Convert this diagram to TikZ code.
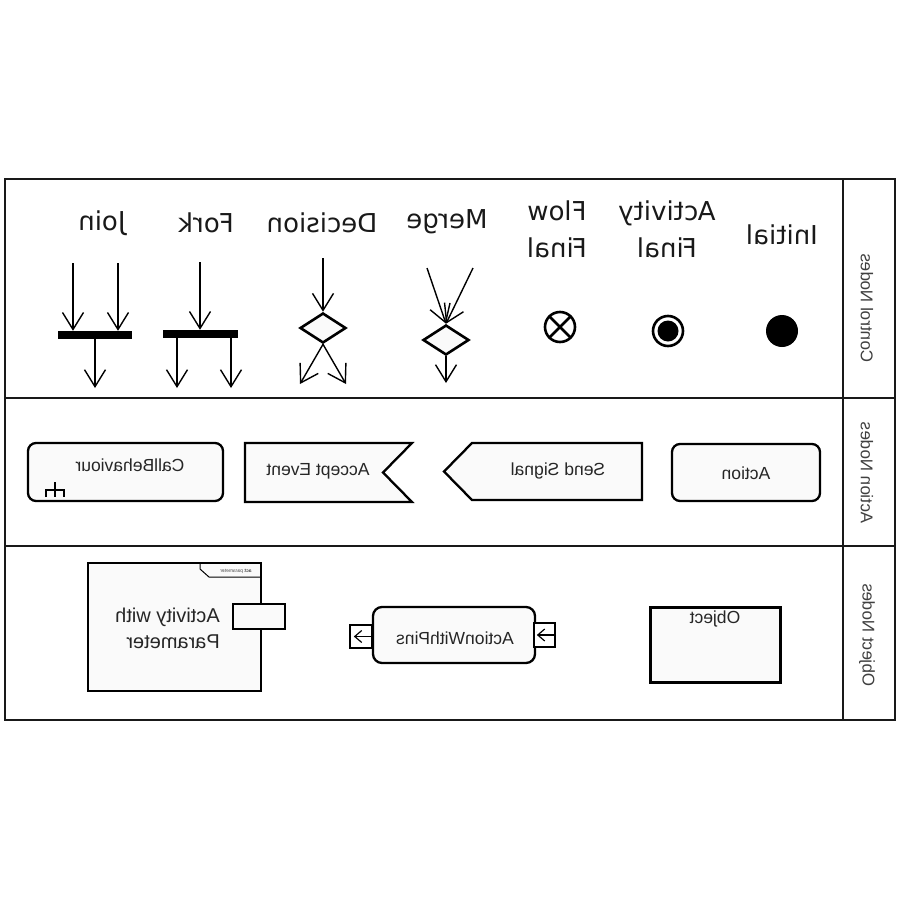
\documentclass[tikz,border=0pt]{standalone}
\usepackage{fontspec}
\setmainfont{Liberation Sans}
\newfontfamily\dvs{DejaVu Sans}
\usepackage{graphicx}
\usetikzlibrary{arrows.meta,shapes.geometric}
\newcommand\mr[1]{\reflectbox{#1}}
\newcommand\mrtwo[2]{\reflectbox{\begin{tabular}{@{}c@{}}#1\\#2\end{tabular}}}
\newcommand\mrtwor[2]{\reflectbox{\begin{tabular}{@{}l@{}}#1\\#2\end{tabular}}}
\begin{document}
\begin{tikzpicture}[x=1pt,y=-1pt,
  frame/.style={line width=2.6pt, draw=black!90},
  flow/.style={line width=1.4pt, -{Straight Barb[length=17pt,width=21pt,line width=1.4pt]}},
  toplbl/.style={font=\dvs\fontsize{26}{37}\selectfont, inner sep=0, text=black!90},
  txt/.style={font=\fontsize{17.5}{22}\selectfont, inner sep=0, text=black!85},
  lanelbl/.style={font=\fontsize{17}{20}\selectfont, inner sep=0, rotate=-90, text=black!75},
  dia/.style={diamond, draw, line width=2.6pt, fill=gray!4, minimum width=46pt, minimum height=30pt, inner sep=0},
  barnode/.style={rectangle, fill=black, inner sep=0, minimum height=8pt},
  shp/.style={draw, line width=2.3pt, fill=gray!4},
  thinshp/.style={draw, line width=1.2pt, fill=gray!4}
]
\useasboundingbox (0,0) rectangle (900,900);
\fill[white] (0,0) rectangle (900,900);

% lanes
\draw[frame] (5,179) rectangle (895,720);
\draw[frame] (843,179) -- (843,720);
\draw[frame] (5,398) -- (895,398);
\draw[frame] (5,546) -- (895,546);
\node[lanelbl] (lc) at (867,308) {\mr{Control Nodes}};
\node[lanelbl] (la) at (867,473) {\mr{Action Nodes}};
\node[lanelbl] (lo) at (867,635) {\mr{Object Nodes}};

% top labels
\node[toplbl] (tjoin) at (102,223) {\mr{Join}};
\node[toplbl] (tfork) at (206,223) {\mr{Fork}};
\node[toplbl] (tdec) at (322,223) {\mr{Decision}};
\node[toplbl] (tmer) at (447,222) {\mr{Merge}};
\node[toplbl] (tff) at (557,232) {\mrtwo{Flow}{Final}};
\node[toplbl] (taf) at (667,232) {\mrtwo{Activity}{Final}};
\node[toplbl] (tini) at (782,235) {\mr{Initial}};

% initial
\node[circle, fill=black, minimum size=32pt, inner sep=0] (ini) at (782,331) {};
% activity final
\node[circle, draw, line width=2.6pt, minimum size=30pt, inner sep=0] (af) at (668,331) {};
\fill (af.center) circle (10.5pt);
% flow final
\node[circle, draw, line width=2.6pt, minimum size=30pt, inner sep=0, outer sep=0] (ff) at (560,327) {};
\draw[line width=2.6pt] (ff.45) -- (ff.225);
\draw[line width=2.6pt] (ff.135) -- (ff.315);

% merge
\node[dia] (mg) at (446,340) {};
\coordinate (mi1) at (427,268);
\coordinate (mi2) at (473,268);
\coordinate (mo) at (446,383);
\draw[flow] (mi1) -- (mg.north);
\draw[flow] (mi2) -- (mg.north);
\draw[flow] (mg.south) -- (mo);

% decision
\node[dia] (dc) at (323,328) {};
\coordinate (di) at (323,258);
\coordinate (do1) at (300,384);
\coordinate (do2) at (346,384);
\draw[flow] (di) -- (dc.north);
\draw[flow] (dc.south) -- (do1);
\draw[flow] (dc.south) -- (do2);

% fork
\node[barnode, minimum width=75pt] (fbar) at (200.5,334) {};
\coordinate (fi) at (200,262);
\coordinate (fo1) at (177,388);
\coordinate (fo2) at (231,388);
\draw[flow] (fi) -- (fi |- fbar.north);
\draw[flow] (fo1 |- fbar.south) -- (fo1);
\draw[flow] (fo2 |- fbar.south) -- (fo2);

% join
\node[barnode, minimum width=74pt] (jbar) at (95,335) {};
\coordinate (ji1) at (73,263);
\coordinate (ji2) at (118,263);
\coordinate (jo) at (95,388);
\draw[flow] (ji1) -- (ji1 |- jbar.north);
\draw[flow] (ji2) -- (ji2 |- jbar.north);
\draw[flow] (jbar.south) -- (jo);

% action lane
\node[shp, rectangle, rounded corners=8pt, minimum width=148pt, minimum height=57pt, inner sep=0] (act) at (746,472.5) {};
\node[txt] (actt) at (746,473) {\mr{Action}};

\draw[shp] (642,443) -- (642,500) -- (472,500) -- (444,471.5) -- (472,443) -- cycle;
\node[txt] (sst) at (558,471) {\mr{Send Signal}};

\draw[shp] (245,443) -- (412,443) -- (383,472.5) -- (412,502) -- (245,502) -- cycle;
\node[txt] (aet) at (318,471) {\mr{Accept Event}};

\node[shp, rectangle, rounded corners=8pt, minimum width=195pt, minimum height=58pt, inner sep=0] (cb) at (125.5,472) {};
\node[txt] (cbt) at (130,465) {\mr{CallBehaviour}};
\draw[line width=2.6pt] (55,482) -- (55,497);
\draw[line width=2.6pt] (46,497) -- (46,490) -- (64,490) -- (64,497);

% object lane
\node[draw, line width=3pt, fill=gray!4, rectangle, minimum width=130pt, minimum height=75pt, inner sep=0] (obj) at (715,644.5) {};
\node[txt, anchor=north] (objt) at (715,611) {\mr{Object}};

\node[shp, rectangle, rounded corners=9pt, minimum width=162pt, minimum height=56pt, inner sep=0] (awp) at (454,635) {};
\node[txt] (awpt) at (455,638) {\mr{ActionWithPins}};
\node[draw, line width=2.4pt, fill=white, minimum width=22pt, minimum height=23pt, inner sep=0] (pl) at (361,636.5) {};
\node[draw, line width=2.4pt, fill=white, minimum width=21pt, minimum height=24pt, inner sep=0] (pr) at (544.5,635) {};
\draw[line width=1.2pt, -{Straight Barb[length=7pt,width=12pt,line width=1.2pt]}] (pl.east) -- ([xshift=5pt]pl.west);
\draw[line width=1.2pt, -{Straight Barb[length=7pt,width=12pt,line width=1.2pt]}] (pr.east) -- ([xshift=4pt]pr.west);

\node[thinshp, rectangle, minimum width=173pt, minimum height=128pt, inner sep=0] (awpar) at (174.5,627) {};
\draw[line width=1pt] (200,563) -- (200,569) -- (209,577) -- (261,577);
\node[font=\fontsize{5}{6}\selectfont, inner sep=0, text=black!70] (tab) at (236,571) {\mr{\textbf{act} parameter}};
\node[thinshp, rectangle, minimum width=52pt, minimum height=25pt, inner sep=0] (par) at (259,616.5) {};
\node[font=\fontsize{20}{26}\selectfont, inner sep=0, text=black!85, anchor=east] (awpart) at (220,630) {\mrtwor{Activity with}{Parameter}};
\end{tikzpicture}
\end{document}
